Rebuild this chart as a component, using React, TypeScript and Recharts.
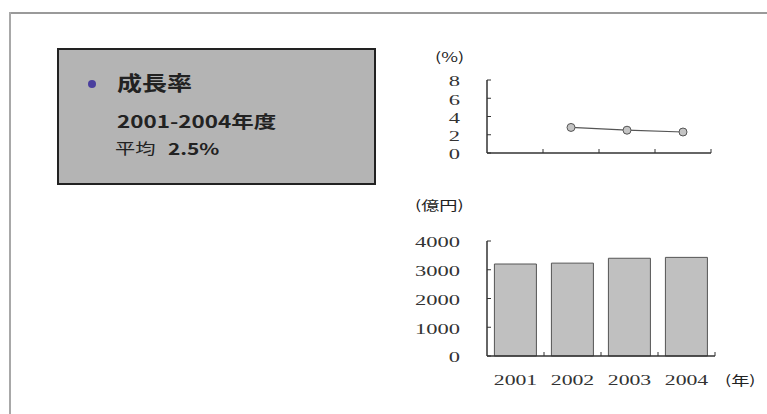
import { Bar, BarChart, Line, LineChart, XAxis, YAxis } from 'recharts';

const YEARS = ['2001', '2002', '2003', '2004'];
const GROWTH_RATE = [null, 2.8, 2.5, 2.3];
const SALES = [3200, 3230, 3400, 3430];
const RATE_TICKS = [0, 2, 4, 6, 8];
const SALES_TICKS = [0, 1000, 2000, 3000, 4000];

const data = YEARS.map((year, i) => ({ year, rate: GROWTH_RATE[i], sales: SALES[i] }));

const AXIS = '#333';
const NUM_FONT = '"Liberation Serif", "Noto Sans CJK JP", serif';
const JP_FONT = '"Noto Sans CJK JP", sans-serif';
const Y_GAP = 27;

const YTick = (props: any) => {
    const { x, y, payload } = props;
    return (
        <g>
            <text
                transform={`translate(${x},${y}) scale(1.5,1)`}
                textAnchor="end"
                dy="0.42em"
                fontSize={15}
                fontFamily={NUM_FONT}
                fill="#333"
            >
                {payload.value}
            </text>
            <line x1={x + Y_GAP} x2={x + Y_GAP + 4} y1={y} y2={y} stroke={AXIS} />
        </g>
    );
};

// ticks sit on the category boundaries, pointing inward
const makeXTick = (margin: number, showLabel: boolean) => (props: any) => {
    const { x, y, payload } = props;
    const bx = x + (payload.offset ?? 28);
    const axisY = y - margin;
    return (
        <g>
            <line x1={bx} x2={bx} y1={axisY} y2={axisY - 4} stroke={AXIS} />
            {showLabel && (
                <text
                    transform={`translate(${x},${y}) scale(1.45,1)`}
                    textAnchor="middle"
                    dy="0.35em"
                    fontSize={15}
                    fontFamily={NUM_FONT}
                    fill="#333"
                >
                    {payload.value}
                </text>
            )}
        </g>
    );
};

const txt = (
    left: number,
    top: number,
    size: number,
    scale: number,
    bold: boolean,
    text: string,
    font = JP_FONT,
) => (
    <div
        style={{
            position: 'absolute',
            left,
            top,
            fontSize: size,
            lineHeight: `${size}px`,
            fontWeight: bold ? 700 : 400,
            fontFamily: font,
            color: '#222',
            whiteSpace: 'nowrap',
            transform: `scale(${scale},1)`,
            transformOrigin: 'left center',
        }}
    >
        {text}
    </div>
);

export default function App() {
    return (
        <div style={{ position: 'absolute', left: 0, top: 0, width: 767, height: 414, background: '#fff', overflow: 'hidden' }}>
            {/* page frame: top and left edges only */}
            <div style={{ position: 'absolute', left: 9, top: 12, width: 758, height: 2, background: '#9a9a9a' }} />
            <div style={{ position: 'absolute', left: 9, top: 12, width: 2, height: 402, background: '#a8a8a8' }} />

            {/* summary box */}
            <div
                style={{
                    position: 'absolute',
                    left: 57,
                    top: 48,
                    width: 315,
                    height: 133,
                    background: '#b4b4b4',
                    border: '2px solid #222',
                }}
            />
            <div
                style={{
                    position: 'absolute',
                    left: 88,
                    top: 80,
                    width: 8,
                    height: 8,
                    borderRadius: 4,
                    background: '#4a3f9e',
                }}
            />
            {txt(117, 73, 20, 1.25, true, '成長率')}
            {txt(117, 112, 17, 1.32, true, '2001-2004年度')}
            {txt(115, 140, 15, 1.35, false, '平均')}
            {txt(168, 140, 16, 1.3, true, '2.5%')}

            {/* unit labels */}
            {txt(435, 50, 13, 1.4, false, '(%)')}
            {txt(415, 198, 13, 1.4, false, '(億円)')}
            {txt(725, 373, 13, 1.4, false, '(年)')}

            <div style={{ position: 'absolute', left: 0, top: 0 }}>
                <LineChart
                    width={767}
                    height={414}
                    data={data}
                    margin={{ top: 80, right: 56, left: 427, bottom: 251 }}
                >
                    <XAxis
                        dataKey="year"
                        scale="band"
                        height={10}
                        tickSize={0}
                        tickMargin={0}
                        tickLine={false}
                        axisLine={{ stroke: AXIS, strokeWidth: 1.5 }}
                        tick={makeXTick(0, false)}
                    />
                    <YAxis
                        width={60}
                        domain={[0, 8]}
                        ticks={RATE_TICKS}
                        interval={0}
                        tickSize={0}
                        tickMargin={Y_GAP}
                        tickLine={false}
                        axisLine={{ stroke: AXIS, strokeWidth: 1.5 }}
                        tick={YTick}
                    />
                    <Line
                        dataKey="rate"
                        type="linear"
                        stroke="#555"
                        strokeWidth={1.2}
                        dot={{ r: 4, fill: '#c4c4c4', stroke: '#555', strokeWidth: 1 }}
                        isAnimationActive={false}
                    />
                </LineChart>
            </div>

            <div style={{ position: 'absolute', left: 0, top: 0 }}>
                <BarChart
                    width={767}
                    height={414}
                    data={data}
                    barCategoryGap="13%"
                    margin={{ top: 241, right: 52, left: 427, bottom: 28 }}
                >
                    <XAxis
                        dataKey="year"
                        height={30}
                        tickSize={0}
                        tickMargin={24}
                        tickLine={false}
                        axisLine={{ stroke: AXIS, strokeWidth: 1.5 }}
                        tick={makeXTick(24, true)}
                    />
                    <YAxis
                        width={60}
                        domain={[0, 4000]}
                        ticks={SALES_TICKS}
                        interval={0}
                        tickSize={0}
                        tickMargin={Y_GAP}
                        tickLine={false}
                        axisLine={{ stroke: AXIS, strokeWidth: 1.5 }}
                        tick={YTick}
                    />
                    <Bar
                        dataKey="sales"
                        fill="#c0c0c0"
                        stroke="#555"
                        strokeWidth={1}
                        isAnimationActive={false}
                    />
                </BarChart>
            </div>
        </div>
    );
}
